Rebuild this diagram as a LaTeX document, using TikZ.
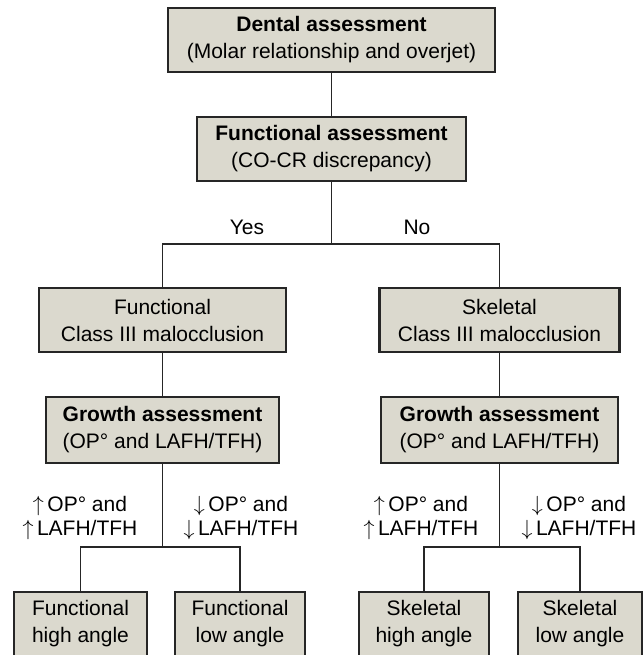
\documentclass[tikz,border=0pt]{standalone}
\usepackage{fontspec}
\setmainfont{Liberation Sans}
\definecolor{boxfill}{RGB}{219,217,206}
\tikzset{
  box/.style={draw=black!85, line width=1.1pt, fill=boxfill, align=center, inner sep=0pt, minimum height=32pt, font=\fontsize{10.5}{13.5}\selectfont},
  lbl/.style={align=center, inner sep=0pt, font=\fontsize{10.5}{12}\selectfont},
  link/.style={draw=black!85, line width=0.9pt}
}
\newcommand{\up}{$\uparrow$\,}
\newcommand{\down}{$\downarrow$\,}
\begin{document}
\begin{tikzpicture}[x=0.5pt,y=-0.5pt]
\useasboundingbox (0,0) rectangle (643,655);
\node[box, minimum width=163.5pt] (dental) at (331.5,40) {\textbf{Dental assessment}\\(Molar relationship and overjet)};
\node[box, minimum width=134.5pt] (funcass) at (331.5,149) {\textbf{Functional assessment}\\(CO-CR discrepancy)};
\node[box, minimum width=123.5pt] (funcmal) at (162.5,320) {Functional\\Class III malocclusion};
\node[box, minimum width=120pt] (skelmal) at (499.5,320) {Skeletal\\Class III malocclusion};
\node[box, minimum width=116.5pt, minimum height=33pt] (growthl) at (162.5,430) {\textbf{Growth assessment}\\(OP° and LAFH/TFH)};
\node[box, minimum width=118.5pt, minimum height=33pt] (growthr) at (499.5,430) {\textbf{Growth assessment}\\(OP° and LAFH/TFH)};
\node[box, minimum width=66.5pt] (funchigh) at (80.5,624) {Functional\\high angle};
\node[box, minimum width=65pt] (funclow) at (240,624) {Functional\\low angle};
\node[box, minimum width=65pt] (skelhigh) at (424,624) {Skeletal\\high angle};
\node[box, minimum width=62pt] (skellow) at (580,624) {Skeletal\\low angle};
\coordinate (split) at (331.5,244);
\coordinate (splitl) at (162.5,547);
\coordinate (splitr) at (499.5,547);
\draw[link] (dental) -- (funcass);
\draw[link] (funcass) -- (split);
\draw[link] (funcmal.north) -- (funcmal.north |- split) -- (skelmal.north |- split) -- (skelmal.north);
\draw[link] (funcmal) -- (growthl);
\draw[link] (skelmal) -- (growthr);
\draw[link] (growthl) -- (splitl);
\draw[link] (growthr) -- (splitr);
\draw[link] (funchigh.north) -- (funchigh.north |- splitl) -- (funclow.north |- splitl) -- (funclow.north);
\draw[link] (skelhigh.north) -- (skelhigh.north |- splitr) -- (skellow.north |- splitr) -- (skellow.north);
\node[lbl] (yes) at (247,227) {Yes};
\node[lbl] (no) at (417,227) {No};
\node[lbl] (upl) at (80,518) {\up OP° and\\\up LAFH/TFH};
\node[lbl] (downl) at (241,518) {\down OP° and\\\down LAFH/TFH};
\node[lbl] (upr) at (421,518) {\up OP° and\\\up LAFH/TFH};
\node[lbl] (downr) at (579,518) {\down OP° and\\\down LAFH/TFH};
\end{tikzpicture}
\end{document}
